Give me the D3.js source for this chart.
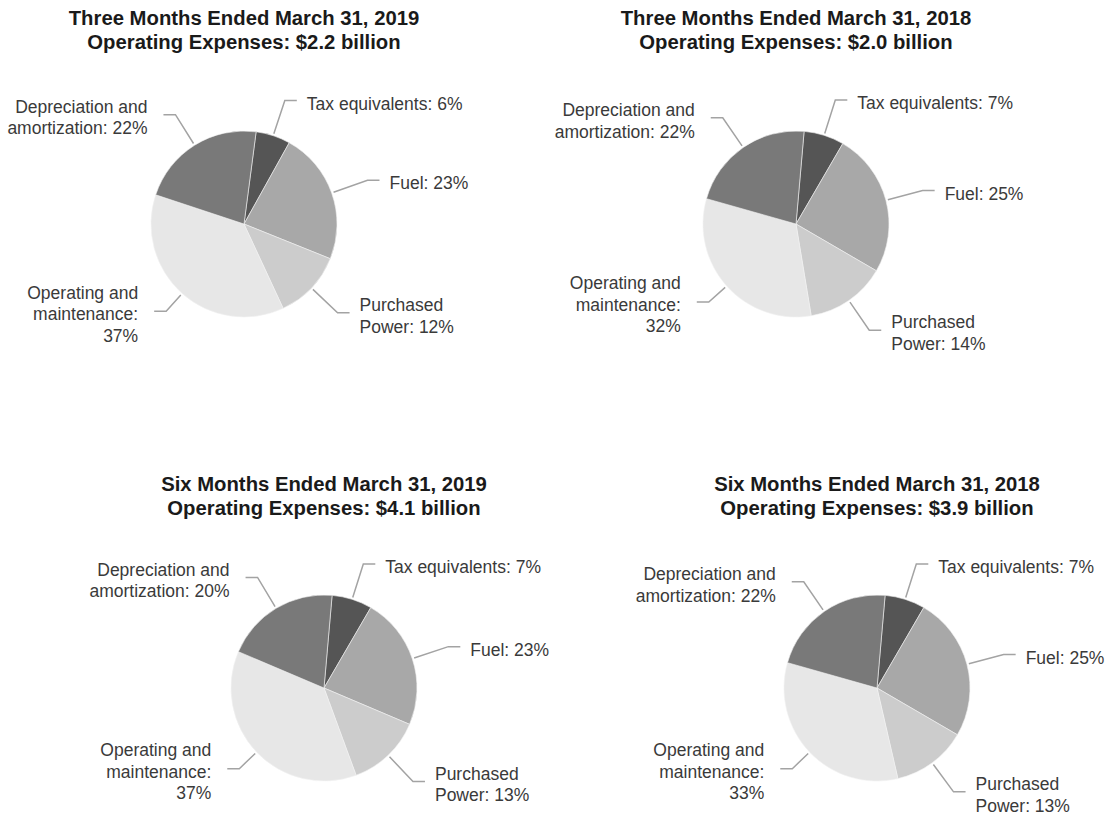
<!DOCTYPE html>
<html>
<head>
    <title>Operating Expenses</title>
    <script src="https://d3js.org/d3.v7.min.js"></script>
    <style>
        body { margin: 0; background: #fff; }
        .title { font: bold 20.3px "Liberation Sans", Arial, sans-serif; fill: #1a1a1a; }
        .label { font: 17.5px "Liberation Sans", Arial, sans-serif; fill: #3a3a3a; }
        .leader { fill: none; stroke: #a3a3a3; stroke-width: 1.5; }
    </style>
</head>
<body>
<svg width="1106" height="817"></svg>
<script>
    // categories in clockwise order from the top of each pie
    var categories = ["Tax equivalents", "Fuel", "Purchased Power", "Operating and maintenance", "Depreciation and amortization"];
    var periods = ["Three Months Ended March 31, 2019", "Three Months Ended March 31, 2018",
                   "Six Months Ended March 31, 2019", "Six Months Ended March 31, 2018"];
    var totals = ["$2.2", "$2.0", "$4.1", "$3.9"];

    var threeMonths2019 = [6, 23, 12, 37, 22];
    var threeMonths2018 = [7, 25, 14, 32, 22];
    var sixMonths2019 = [7, 23, 13, 37, 20];
    var sixMonths2018 = [7, 25, 13, 33, 22];
    var series = [threeMonths2019, threeMonths2018, sixMonths2019, sixMonths2018];

    var colors = ["#555555", "#a8a8a8", "#cccccc", "#e7e7e7", "#797979"];

    // where each label line breaks
    function labelLines(cat, p) {
        if (cat == "Tax equivalents") return ["Tax equivalents: " + p + "%"];
        if (cat == "Fuel") return ["Fuel: " + p + "%"];
        if (cat == "Purchased Power") return ["Purchased", "Power: " + p + "%"];
        if (cat == "Operating and maintenance") return ["Operating and", "maintenance:", p + "%"];
        return ["Depreciation and", "amortization: " + p + "%"];
    }

    var svg = d3.select("svg");

    // panel layout: pie centre, title baseline, first slice angle
    var panels = [
        {cx: 244, cy: 224, ty: 25, start: 7.5},
        {cx: 796, cy: 224, ty: 25, start: 5},
        {cx: 324, cy: 688, ty: 491, start: 5},
        {cx: 877, cy: 688, ty: 491, start: 5}
    ];

    var r = 93, lineH = 21.5;
    // distance of the leader elbow from the centre, per category
    var elbowR = [130, 131, 129, 117, 129];

    var color = d3.scaleOrdinal().domain(categories).range(colors);
    var arc = d3.arc().innerRadius(0).outerRadius(r);

    panels.forEach(function(p, i) {
        var g = svg.append("g").attr("transform", "translate(" + p.cx + "," + p.cy + ")");

        var title = svg.append("text").attr("class", "title")
            .attr("text-anchor", "middle")
            .attr("x", p.cx).attr("y", p.ty);
        title.append("tspan").attr("x", p.cx).text(periods[i]);
        title.append("tspan").attr("x", p.cx).attr("dy", 23.5)
            .text("Operating Expenses: " + totals[i] + " billion");

        var a0 = p.start * Math.PI / 180;
        var pie = d3.pie().sort(null).startAngle(a0).endAngle(a0 + 2 * Math.PI);
        var arcs = pie(series[i]);

        g.selectAll("path.slice").data(arcs).enter().append("path")
            .attr("class", "slice")
            .attr("d", arc)
            .attr("fill", function(d, j) { return color(categories[j]); })
            .attr("stroke", "#f2f2f2")
            .attr("stroke-width", 0.6);

        arcs.forEach(function(d, j) {
            var mid = (d.startAngle + d.endAngle) / 2;
            var sx = Math.sin(mid), sy = -Math.cos(mid);
            var right = sx >= 0;
            var dir = right ? 1 : -1;
            var p0 = [sx * (r + 2), sy * (r + 2)];
            var p1 = [sx * elbowR[j], sy * elbowR[j]];
            var p2 = [p1[0] + dir * 12, p1[1]];

            g.append("polyline").attr("class", "leader")
                .attr("points", [p0, p1, p2].map(function(q) { return q.join(","); }).join(" "));

            var lines = labelLines(categories[j], d.data);
            var tx = p2[0] + dir * (right ? 10 : 16);
            var firstY = p1[1] + 3 - (lines.length - 1) * lineH / 2 + 6;
            var t = g.append("text").attr("class", "label")
                .attr("text-anchor", right ? "start" : "end");
            lines.forEach(function(s, k) {
                t.append("tspan").attr("x", tx).attr("y", firstY + k * lineH).text(s);
            });
        });
    });
</script>
</body>
</html>
